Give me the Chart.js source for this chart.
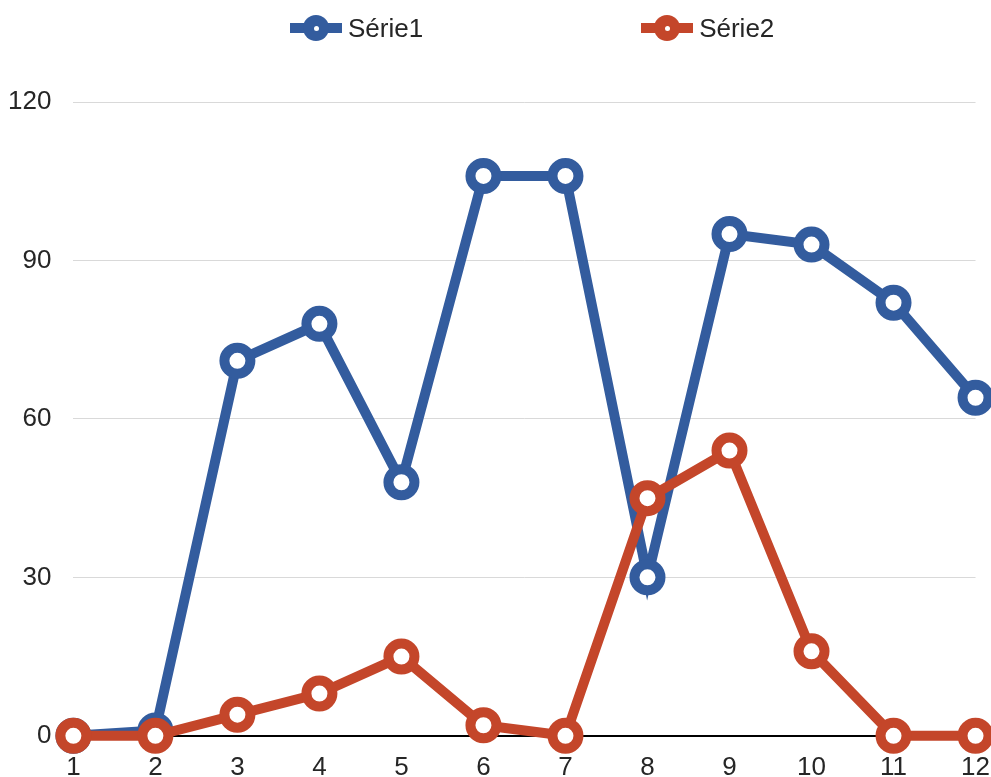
<!DOCTYPE html>
<html>
<head>
<meta charset="utf-8">
<script src="https://cdn.jsdelivr.net/npm/chart.js@4/dist/chart.umd.min.js"></script>
<style>
    html, body { margin: 0; padding: 0; background: #fff; overflow: hidden; }
    #wrap { position: relative; width: 991px; height: 777px; overflow: hidden; }
    /* canvas box is a bit larger than the page so the x labels get clipped at the bottom like the original */
    #chart-box { position: absolute; left: -22px; top: 0; width: 1028px; height: 807px; }
    #legend { position: absolute; top: 13px; left: 290px; display: flex; gap: 218px;
        font-family: "Liberation Sans", Arial, sans-serif; font-size: 26px; color: #262626; }
    .item { display: flex; align-items: center; height: 30px; }
    .mark { position: relative; width: 52px; height: 30px; margin-right: 6px; }
    .mark .ln { position: absolute; left: 0; right: 0; top: 10px; height: 10px; }
    .mark .dot { position: absolute; left: 13px; top: 2px; width: 26px; height: 26px; border-radius: 50%; }
    .mark .hole { position: absolute; left: 10.5px; top: 10.5px; width: 5px; height: 5px; border-radius: 50%; background: #fff; }
</style>
</head>
<body>
<div id="wrap">
    <div id="chart-box"><canvas id="chart" width="1028" height="807"></canvas></div>
    <div id="legend"></div>
</div>
<script>
const categories = ['1', '2', '3', '4', '5', '6', '7', '8', '9', '10', '11', '12'];
const serie1 = [0, 1, 71, 78, 48, 106, 106, 30, 95, 93, 82, 64];
const serie2 = [0, 0, 4, 8, 15, 2, 0, 45, 54, 16, 0, 0];
const seriesNames = ['Série1', 'Série2'];
const seriesColors = ['#335C9E', '#C4462A'];
const yTicks = [0, 30, 60, 90, 120];

function makeDataset(label, values, color, order) {
    return {
        label: label,
        data: values,
        order: order,
        borderColor: color,
        backgroundColor: '#ffffff',
        borderWidth: 10,
        pointRadius: 13,
        pointHoverRadius: 13,
        pointBorderWidth: 10,
        pointBackgroundColor: '#ffffff',
        pointBorderColor: color,
        tension: 0,
        clip: false
    };
}

// Série2 sits on top of Série1 in the original
const datasets = [
    makeDataset(seriesNames[0], serie1, seriesColors[0], 2),
    makeDataset(seriesNames[1], serie2, seriesColors[1], 1)
];

// legend as html
const legend = document.getElementById('legend');
datasets.forEach(ds => {
    const item = document.createElement('div');
    item.className = 'item';
    item.innerHTML = `
        <div class="mark">
            <div class="ln" style="background:${ds.borderColor}"></div>
            <div class="dot" style="background:${ds.borderColor}"><div class="hole"></div></div>
        </div>
        <span>${ds.label}</span>`;
    legend.appendChild(item);
});

new Chart(document.getElementById('chart'), {
    type: 'line',
    data: { labels: categories, datasets: datasets },
    options: {
        responsive: false,
        animation: false,
        layout: { autoPadding: false, padding: { left: 8, right: 16, top: 102, bottom: 8 } },
        plugins: { legend: { display: false }, tooltip: { enabled: false } },
        scales: {
            x: {
                offset: false,
                grid: { display: false, drawTicks: false },
                border: { display: false },
                ticks: {
                    padding: 16,
                    maxRotation: 0,
                    autoSkip: false,
                    color: '#262626',
                    font: { family: 'Liberation Sans', size: 26 }
                }
            },
            y: {
                min: 0,
                max: 120,
                afterBuildTicks: axis => { axis.ticks = yTicks.map(v => ({ value: v })); },
                grid: {
                    drawTicks: false,
                    color: c => c.tick && c.tick.value === 0 ? '#000000' : '#d9d9d9',
                    lineWidth: c => c.tick && c.tick.value === 0 ? 2 : 1
                },
                border: { display: false },
                ticks: {
                    padding: 22,
                    color: '#262626',
                    font: { family: 'Liberation Sans', size: 26 }
                }
            }
        }
    }
});
</script>
</body>
</html>
